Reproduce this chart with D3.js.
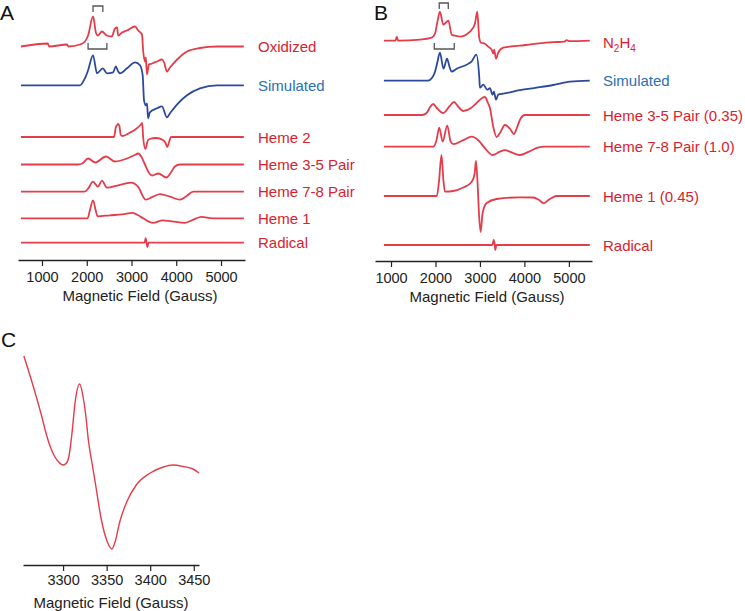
<!DOCTYPE html>
<html>
<head>
<meta charset="utf-8">
<script src="https://cdn.jsdelivr.net/npm/d3@7"></script>
<style>
  body { margin: 0; background: #fff; }
  svg { display: block; }
  text { font-family: "Liberation Sans", Arial, sans-serif; }
</style>
</head>
<body>
<svg id="fig" width="745" height="611"></svg>
<script>
// field ticks
const fieldTicksAB = [1000, 2000, 3000, 4000, 5000];
const fieldTicksC = [3300, 3350, 3400, 3450];

// panel A spectra: [field (G), signal (a.u.)]
const oxidized = [[530,0],[1130,3],[1160,0],[1560,2],[1590,0],[1850,2],[1960,5],[2030,11],[2140,30],[2210,13],[2250,11],[2340,15],[2450,11],[2560,10],[2630,18],[2680,19],[2700,11],[2790,14],[2900,16],[3080,20],[3150,16],[3235,12],[3260,-4],[3300,-15],[3320,-11],[3345,-28],[3390,-18],[3460,-17],[3570,-15],[3680,-13],[3730,-16],[3790,-25],[3860,-21],[4020,-13],[4240,-5],[4530,-1.5],[4910,0],[5510,0]];
const simulatedA = [[530,0],[1850,0],[1960,7],[2030,15],[2140,30],[2230,12],[2360,17],[2450,12],[2590,13],[2650,19],[2700,14],[2740,12],[2900,17],[3080,23],[3190,20],[3250,10],[3280,-15],[3320,-20],[3346,-18],[3370,-33],[3410,-27],[3570,-23],[3680,-21],[3790,-32],[3860,-28],[4020,-19],[4240,-10],[4530,-3],[4910,0],[5510,0]];
const heme2A = [[530,0],[2610,0],[2650,10],[2680,12],[2700,13],[2730,11],[2760,2],[2800,1],[2950,4],[3100,8],[3200,12],[3240,14],[3260,0],[3310,-12],[3360,-4],[3400,-2],[3550,-1],[3700,-3],[3760,-6],[3800,-10],[3840,-5],[3880,0],[5510,0]];
const heme35A = [[530,0],[1800,0],[1900,1],[2030,6],[2190,2],[2430,8],[2630,3],[2900,6],[3050,9],[3150,11],[3230,7],[3300,0],[3400,-9],[3460,-11],[3600,-9],[3780,-13],[3880,-8],[3970,-2],[4080,0],[5510,0]];
const heme78A = [[530,0],[1950,0],[2030,3],[2140,10],[2250,5],[2340,11],[2450,4],[2680,6],[2990,9],[3145,5],[3320,-8],[3480,-5],[3640,-2.5],[3860,-5],[4080,-8],[4240,-4],[4380,0],[5510,0]];
const heme1A = [[530,0],[2020,0],[2070,8],[2140,18],[2200,8],[2240,2],[2520,3],[2800,4],[3030,5.5],[3150,3],[3260,0],[3480,-4.5],[3700,-2],[3900,-3],[4190,-4.5],[4400,-1],[4560,1.5],[4820,0],[5510,0]];
const radicalA = [[530,0],[3290,0],[3318,4.5],[3336,0],[3356,-4.5],[3380,0],[5510,0]];

// panel B spectra
const n2h4 = [[840,0],[1100,0],[1130,4],[1160,0],[1650,1],[1915,3],[1990,7],[2040,18],[2100,29],[2175,16],[2290,20],[2364,6],[2440,5],[2550,4],[2775,9],[2888,17],[2940,29],[2984,3],[3022,-2],[3112,-3],[3187,-6],[3263,-9],[3299,-13],[3321,-9],[3360,-18],[3411,-12],[3524,-7],[3900,-5],[4274,-3],[4650,-1.5],[4900,-1],[4950,0.5],[5020,-0.5],[5470,0]];
const simulatedB = [[840,0],[1830,0],[1915,2.5],[1990,9],[2040,18],[2100,28],[2180,12],[2260,22],[2315,14],[2364,9],[2477,12],[2700,16],[2810,19],[2920,26],[2984,4],[3000,-7],[3075,-4],[3165,-9],[3225,-7.5],[3285,-14],[3315,-11],[3360,-19],[3411,-14],[3524,-13],[3900,-9.5],[4274,-7],[4650,-4.3],[5022,-1],[5470,0]];
const heme35B = [[840,0],[1700,0],[1800,2],[1880,8],[1950,11],[2030,7],[2175,2],[2320,9],[2416,13],[2500,9],[2625,4],[2800,7],[2926,12],[3050,17],[3112,18],[3180,12],[3225,7],[3300,-12],[3375,-22],[3450,-18],[3562,-10],[3680,-14],[3764,-19],[3830,-13],[3899,-5],[4011,0],[5470,0]];
const heme78B = [[840,0],[1950,0],[2020,6],[2085,19],[2162,5],[2265,21],[2342,5],[2400,2.5],[2625,6.5],[2813,10],[2962,6.5],[3112,-1.5],[3281,-8.3],[3450,-5],[3562,-3.5],[3700,-5.5],[3899,-8.3],[4100,-5],[4300,-1],[4460,0],[5470,0]];
const heme1B = [[840,0],[2030,0],[2080,15],[2135,41],[2180,15],[2213,4.3],[2400,5],[2625,8.5],[2813,14],[2880,22],[2910,35],[2950,10],[2975,-15],[3015,-36],[3060,-17],[3150,-7],[3375,-3],[3899,-1.3],[4200,-1.5],[4330,-4],[4438,-7.3],[4540,-4],[4611,-2],[4724,0],[5470,0]];
const radicalB = [[840,0],[3280,0],[3310,5],[3330,1],[3345,-5],[3370,0],[5470,0]];

// panel C: radical, expanded
const radicalC = [[3255,109],[3266,78],[3276,47],[3281,30],[3285,19],[3290,9],[3295,3],[3300,0],[3304,2],[3307,10],[3310,30],[3314,64],[3319,81],[3323,68],[3326,50],[3329,25],[3333,3],[3337,-18],[3344,-55],[3350,-75],[3356,-84],[3360,-76],[3365,-57],[3373,-37],[3384,-20],[3400,-8],[3415,-2],[3426,0],[3438,-1.5],[3449,-4],[3456,-8]];

// stacking offsets (a.u. above axis) and labels
const labelsA = ["Oxidized", "Simulated", "Heme 2", "Heme 3-5 Pair", "Heme 7-8 Pair", "Heme 1", "Radical"];
const offsetsA = [213.5, 174.7, 123, 95.5, 68.3, 41.7, 17.3];
const labelsB = ["N2H4", "Simulated", "Heme 3-5 Pair (0.35)", "Heme 7-8 Pair (1.0)", "Heme 1 (0.45)", "Radical"];
const offsetsB = [220.3, 180.3, 146, 114.3, 65, 16];

// bracketed field ranges (G)
const bracketsA = [[2140, 2360], [2030, 2450]];
const bracketsB = [[2085, 2288], [1973, 2422]];

const red = "#e43c4b", blue = "#2c4a9c", labelRed = "#d9222e", labelBlue = "#2b6fb5";

const svg = d3.select("#fig");

function drawPanel(opt) {
  const g = svg.append("g");
  const x = d3.scaleLinear().domain(opt.xDomain).range(opt.xRange);
  const y = d3.scaleLinear().domain([0, 260]).range([opt.axisY, opt.axisY - 260]);

  opt.series.forEach((s, i) => {
    const off = opt.offsets[i];
    const line = d3.line()
      .x(d => x(d[0]))
      .y(d => y(off + d[1]))
      .curve(d3.curveMonotoneX);
    const isSim = opt.labels[i] == "Simulated";
    g.append("path")
      .attr("d", line(s))
      .attr("fill", "none")
      .attr("stroke", isSim ? blue : red)
      .attr("stroke-width", 1.8)
      .attr("stroke-linejoin", "round");

    const t = g.append("text")
      .attr("x", opt.labelX)
      .attr("y", y(off) + 5.5)
      .attr("font-size", 15)
      .attr("fill", isSim ? labelBlue : labelRed);
    if (opt.labels[i] == "N2H4") {
      t.attr("y", y(off) + 7);
      t.append("tspan").text("N");
      t.append("tspan").attr("font-size", 10).attr("dy", 4).text("2");
      t.append("tspan").attr("dy", -4).text("H");
      t.append("tspan").attr("font-size", 10).attr("dy", 4).text("4");
    } else {
      t.text(opt.labels[i]);
    }
  });

  // brackets: first one opens down (above peak), second opens up (below)
  const b = opt.brackets;
  const top = opt.bracketY;
  g.append("path")
    .attr("d", `M${x(b[0][0])},${top[0] + 6}V${top[0]}H${x(b[0][1])}V${top[0] + 6}`)
    .attr("fill", "none").attr("stroke", "#555").attr("stroke-width", 1.3);
  g.append("path")
    .attr("d", `M${x(b[1][0])},${top[1]}V${top[1] + 6}H${x(b[1][1])}V${top[1]}`)
    .attr("fill", "none").attr("stroke", "#555").attr("stroke-width", 1.3);

  drawAxis(g, x, opt.axisY, fieldTicksAB, 6);
  g.append("text")
    .attr("x", opt.titleX).attr("y", opt.axisY + 41)
    .attr("text-anchor", "middle").attr("font-size", 15).attr("fill", "#222")
    .text("Magnetic Field (Gauss)");
}

function drawAxis(g, x, y0, ticks, pad) {
  const ax = g.append("g")
    .attr("transform", `translate(0,${y0})`)
    .call(d3.axisBottom(x).tickValues(ticks).tickFormat(d3.format("d"))
      .tickSize(6).tickSizeOuter(0).tickPadding(pad));
  ax.select(".domain").attr("stroke", "#222").attr("stroke-width", 1.3);
  ax.selectAll(".tick line").attr("stroke", "#222").attr("stroke-width", 1.2);
  ax.selectAll(".tick text")
    .attr("font-size", 14.5).attr("fill", "#222")
    .attr("font-family", "'Liberation Sans', Arial, sans-serif");
}

drawPanel({
  xDomain: [464, 5536], xRange: [18, 245], axisY: 260,
  series: [oxidized, simulatedA, heme2A, heme35A, heme78A, heme1A, radicalA],
  offsets: offsetsA, labels: labelsA, labelX: 258,
  brackets: bracketsA, bracketY: [6, 43], titleX: 140
});

drawPanel({
  xDomain: [640, 5520], xRange: [375, 592], axisY: 261,
  series: [n2h4, simulatedB, heme35B, heme78B, heme1B, radicalB],
  offsets: offsetsB, labels: labelsB, labelX: 603,
  brackets: bracketsB, bracketY: [3, 43], titleX: 487
});

// panel C
const xC = d3.scaleLinear().domain([3254, 3456]).range([23, 199]);
const yC = d3.scaleLinear().domain([-100, 200]).range([565, 265]);
const gC = svg.append("g");
gC.append("path")
  .attr("d", d3.line().x(d => xC(d[0])).y(d => yC(d[1])).curve(d3.curveMonotoneX)(radicalC))
  .attr("fill", "none").attr("stroke", red).attr("stroke-width", 1.4);
drawAxis(gC, xC, 565, fieldTicksC, 4);
gC.append("text")
  .attr("x", 111).attr("y", 608)
  .attr("text-anchor", "middle").attr("font-size", 15).attr("fill", "#222")
  .text("Magnetic Field (Gauss)");

// panel letters
[["A", 0, 20], ["B", 374, 20], ["C", 1, 347]].forEach(p => {
  svg.append("text").attr("x", p[1]).attr("y", p[2])
    .attr("font-size", 21).attr("fill", "#111").text(p[0]);
});
</script>
</body>
</html>
